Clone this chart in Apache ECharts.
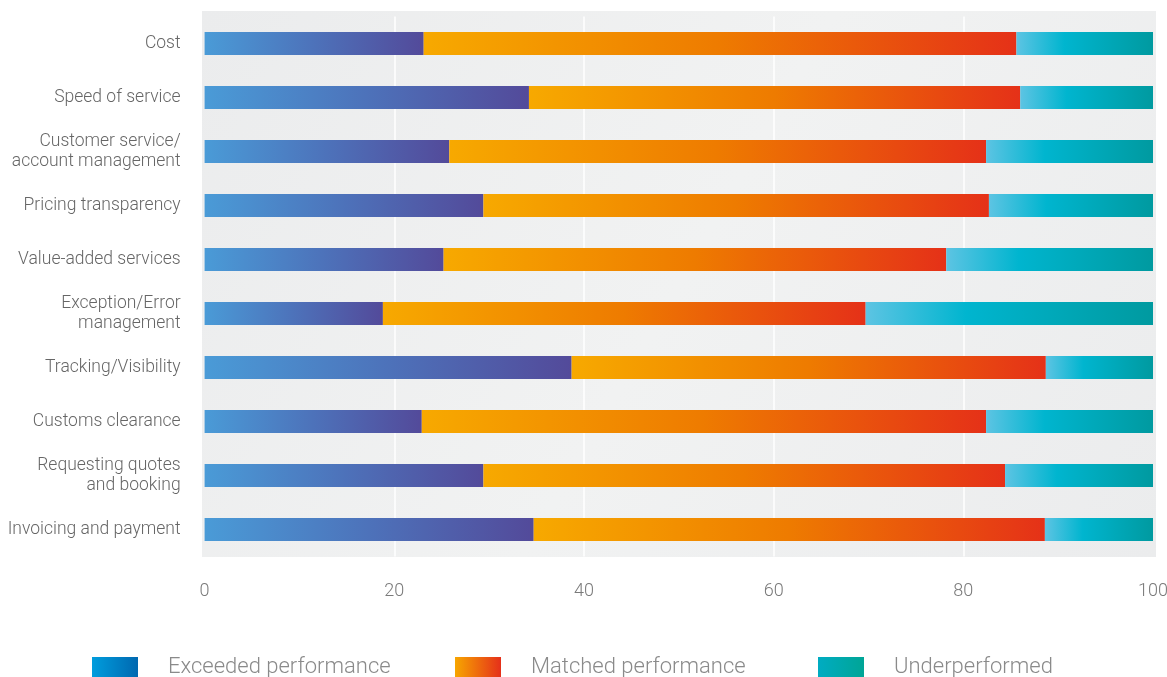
<!DOCTYPE html>
<html>
<head>
<meta charset="utf-8">
<script src="https://cdn.jsdelivr.net/npm/echarts@6/dist/echarts.min.js"></script>
<style>
html,body{margin:0;padding:0;background:#fff;overflow:hidden;}
#chart{width:1167px;height:677px;}
</style>
</head>
<body>
<div id="chart"></div>
<script>
var categories = [
  'Cost',
  'Speed of service',
  'Customer service/\naccount management',
  'Pricing transparency',
  'Value-added services',
  'Exception/Error\nmanagement',
  'Tracking/Visibility',
  'Customs clearance',
  'Requesting quotes\nand booking',
  'Invoicing and payment'
];
var exceeded = [23.1, 34.2, 25.8, 29.4, 25.2, 18.8, 38.7, 22.9, 29.4, 34.7];
var matched  = [62.5, 51.8, 56.6, 53.3, 53.0, 50.9, 50.0, 59.5, 55.0, 53.9];
var under    = [14.4, 14.0, 17.6, 17.3, 21.8, 30.3, 11.3, 17.6, 15.6, 11.4];
var seriesNames = ['Exceeded performance', 'Matched performance', 'Underperformed'];
var xTicks = [0, 20, 40, 60, 80, 100];

function hgrad(stops) {
  return new echarts.graphic.LinearGradient(0, 0, 1, 0,
    stops.map(function (s) { return { offset: s[0], color: s[1] }; }));
}

var barColors = [
  hgrad([[0, '#4a9bd7'], [0.5, '#4d72ba'], [1, '#534a9a']]),
  hgrad([[0, '#f7a900'], [0.5, '#ee7b00'], [1, '#e53118']]),
  hgrad([[0, '#5dc4e3'], [0.35, '#00b5cf'], [1, '#009aa0']])
];
var legendColors = [
  hgrad([[0, '#009ddd'], [1, '#0068b0']]),
  hgrad([[0, '#f7a600'], [1, '#e5301a']]),
  hgrad([[0, '#00acc2'], [1, '#00a596']])
];
var legendLefts = [92, 455, 818];

var chart = echarts.init(document.getElementById('chart'), null, { renderer: 'canvas' });

var dataSets = [exceeded, matched, under];
var series = dataSets.map(function (d, i) {
  return {
    name: seriesNames[i],
    type: 'bar',
    stack: 'total',
    barWidth: 23,
    data: d,
    itemStyle: { color: barColors[i] },
    emphasis: { disabled: true }
  };
});

var legends = seriesNames.map(function (n, i) {
  return {
    left: legendLefts[i],
    top: 656,
    padding: 0,
    itemWidth: 46,
    itemHeight: 20,
    icon: 'rect',
    selectedMode: false,
    data: [{ name: n, itemStyle: { color: legendColors[i] } }],
    textStyle: {
      fontFamily: 'Roboto',
      fontWeight: 300,
      fontSize: 22,
      color: '#8a8a8a',
      padding: [0, 0, 0, 25]
    }
  };
});

chart.setOption({
  animation: false,
  backgroundColor: '#ffffff',
  graphic: [{
    type: 'rect',
    z: -10,
    silent: true,
    shape: { x: 202, y: 11, width: 954, height: 546 },
    style: {
      fill: new echarts.graphic.LinearGradient(0, 0, 1, 1, [
        { offset: 0, color: '#ebeced' },
        { offset: 0.5, color: '#f1f2f2' },
        { offset: 1, color: '#ebeced' }
      ])
    }
  }],
  legend: legends,
  grid: { left: 204.6, right: 14, top: 16.5, height: 540, containLabel: false, outerBoundsMode: 'none' },
  xAxis: {
    type: 'value',
    min: xTicks[0],
    max: xTicks[xTicks.length - 1],
    interval: 20,
    axisLine: { show: false },
    axisTick: { show: false },
    splitLine: {
      show: true,
      lineStyle: {
        color: ['rgba(0,0,0,0)', '#ffffff', '#ffffff', '#ffffff', '#ffffff', 'rgba(0,0,0,0)'],
        width: 1.5
      }
    },
    axisLabel: {
      margin: 26,
      fontFamily: 'Roboto',
      fontWeight: 300,
      fontSize: 18,
      color: '#7a7a7a'
    }
  },
  yAxis: {
    type: 'category',
    inverse: true,
    data: categories,
    axisLine: { show: false },
    axisTick: { show: false },
    splitLine: { show: false },
    axisLabel: {
      margin: 24,
      fontFamily: 'Roboto',
      fontWeight: 300,
      fontSize: 17.5,
      lineHeight: 20,
      color: '#666666',
      align: 'right'
    }
  },
  series: series
});
</script>
</body>
</html>
